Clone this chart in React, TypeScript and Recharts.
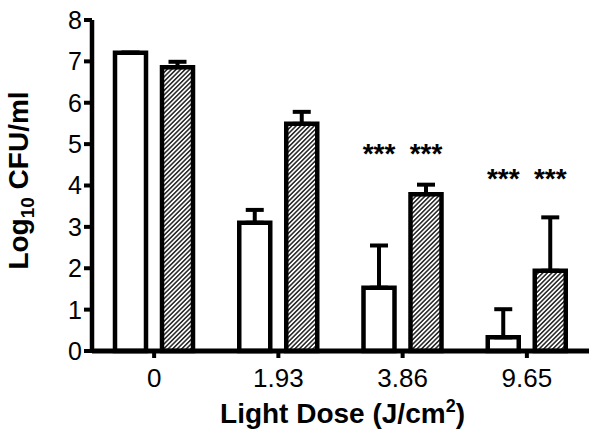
import { BarChart, Bar, XAxis, YAxis, ErrorBar, LabelList, Label } from "recharts";

const doses = ["0", "1.93", "3.86", "9.65"];
const openMeans = [7.21, 3.1, 1.53, 0.33];
const openErr = [0, 0.31, 1.02, 0.68];
const hatchMeans = [6.86, 5.49, 3.79, 1.94];
const hatchErr = [0.13, 0.29, 0.23, 1.29];
// significance markers, drawn at this y value
const openStars = [null, null, 4.9, 4.28];
const hatchStars = [null, null, 4.9, 4.28];
const yTicks = [0, 1, 2, 3, 4, 5, 6, 7, 8];

const data = doses.map((dose, i) => ({
  dose,
  open: openMeans[i],
  openErr: [0, openErr[i]],
  openStar: openStars[i],
  hatch: hatchMeans[i],
  hatchErr: [0, hatchErr[i]],
  hatchStar: hatchStars[i],
}));

const font = "Arial, 'Liberation Sans', sans-serif";

function starLabel(means: number[]) {
  return (props: any) => {
    const vb = props.viewBox || props;
    const { index, value } = props;
    if (value == null) return null;
    const mean = means[index];
    const base = vb.y + vb.height;
    const pxPerUnit = vb.height / mean;
    const cy = base - value * pxPerUnit;
    return (
      <text
        x={vb.x + vb.width / 2}
        y={cy + 14.5}
        textAnchor="middle"
        fontFamily={font}
        fontWeight="bold"
        fontSize={28}
        fill="#000"
      >
        ***
      </text>
    );
  };
}

export default function App() {
  return (
    <div style={{ position: "absolute", left: 0, top: 0 }}>
      <BarChart
        width={600}
        height={439}
        data={data}
        margin={{ top: 20, right: 11, bottom: 0, left: 0 }}
        barGap={16}
      >
        <defs>
          <pattern
            id="hatch"
            width={3.2}
            height={10}
            patternUnits="userSpaceOnUse"
            patternTransform="rotate(45)"
          >
            <rect width={3.2} height={10} fill="#fff" />
            <line x1={0.8} y1={0} x2={0.8} y2={10} stroke="#111" strokeWidth={1.4} />
          </pattern>
        </defs>
        <XAxis
          dataKey="dose"
          height={88}
          axisLine={{ stroke: "#000", strokeWidth: 5 }}
          tickLine={{ stroke: "#000", strokeWidth: 4 }}
          tickSize={7}
          tickMargin={11}
          tick={{ fill: "#000", fontSize: 26, fontFamily: font }}
        >
          <Label
            content={(props: any) => {
              const vb = props.viewBox;
              return (
                <text
                  x={vb.x + vb.width / 2 + 2}
                  y={vb.y + 72}
                  textAnchor="middle"
                  fontFamily={font}
                  fontWeight="bold"
                  fontSize={28}
                  fill="#000"
                >
                  Light Dose (J/cm
                  <tspan fontSize={18} dy={-11}>2</tspan>
                  <tspan dy={11}>)</tspan>
                </text>
              );
            }}
          />
        </XAxis>
        <YAxis
          width={92}
          domain={[0, 8]}
          ticks={yTicks}
          interval={0}
          axisLine={{ stroke: "#000", strokeWidth: 4.5 }}
          tickLine={{ stroke: "#000", strokeWidth: 4 }}
          tickSize={8}
          tickMargin={2}
          tick={{ fill: "#000", fontSize: 25, fontFamily: font }}
        >
          <Label
            content={(props: any) => {
              const vb = props.viewBox;
              const cx = 28;
              const cy = vb.y + vb.height / 2 - 5;
              return (
                <text
                  x={cx}
                  y={cy}
                  transform={`rotate(-90 ${cx} ${cy})`}
                  textAnchor="middle"
                  fontFamily={font}
                  fontWeight="bold"
                  fontSize={28}
                  fill="#000"
                >
                  Log
                  <tspan fontSize={19} dy={6}>10</tspan>
                  <tspan dy={-6}> CFU/ml</tspan>
                </text>
              );
            }}
          />
        </YAxis>
        <Bar
          dataKey="open"
          fill="#fff"
          stroke="#000"
          strokeWidth={4.5}
          barSize={31}
          isAnimationActive={false}
        >
          <ErrorBar dataKey="openErr" width={9} stroke="#000" strokeWidth={4} />
          <LabelList dataKey="openStar" content={starLabel(openMeans)} />
        </Bar>
        <Bar
          dataKey="hatch"
          fill="url(#hatch)"
          stroke="#000"
          strokeWidth={4.5}
          barSize={31}
          isAnimationActive={false}
        >
          <ErrorBar dataKey="hatchErr" width={9} stroke="#000" strokeWidth={4} />
          <LabelList dataKey="hatchStar" content={starLabel(hatchMeans)} />
        </Bar>
      </BarChart>
    </div>
  );
}
